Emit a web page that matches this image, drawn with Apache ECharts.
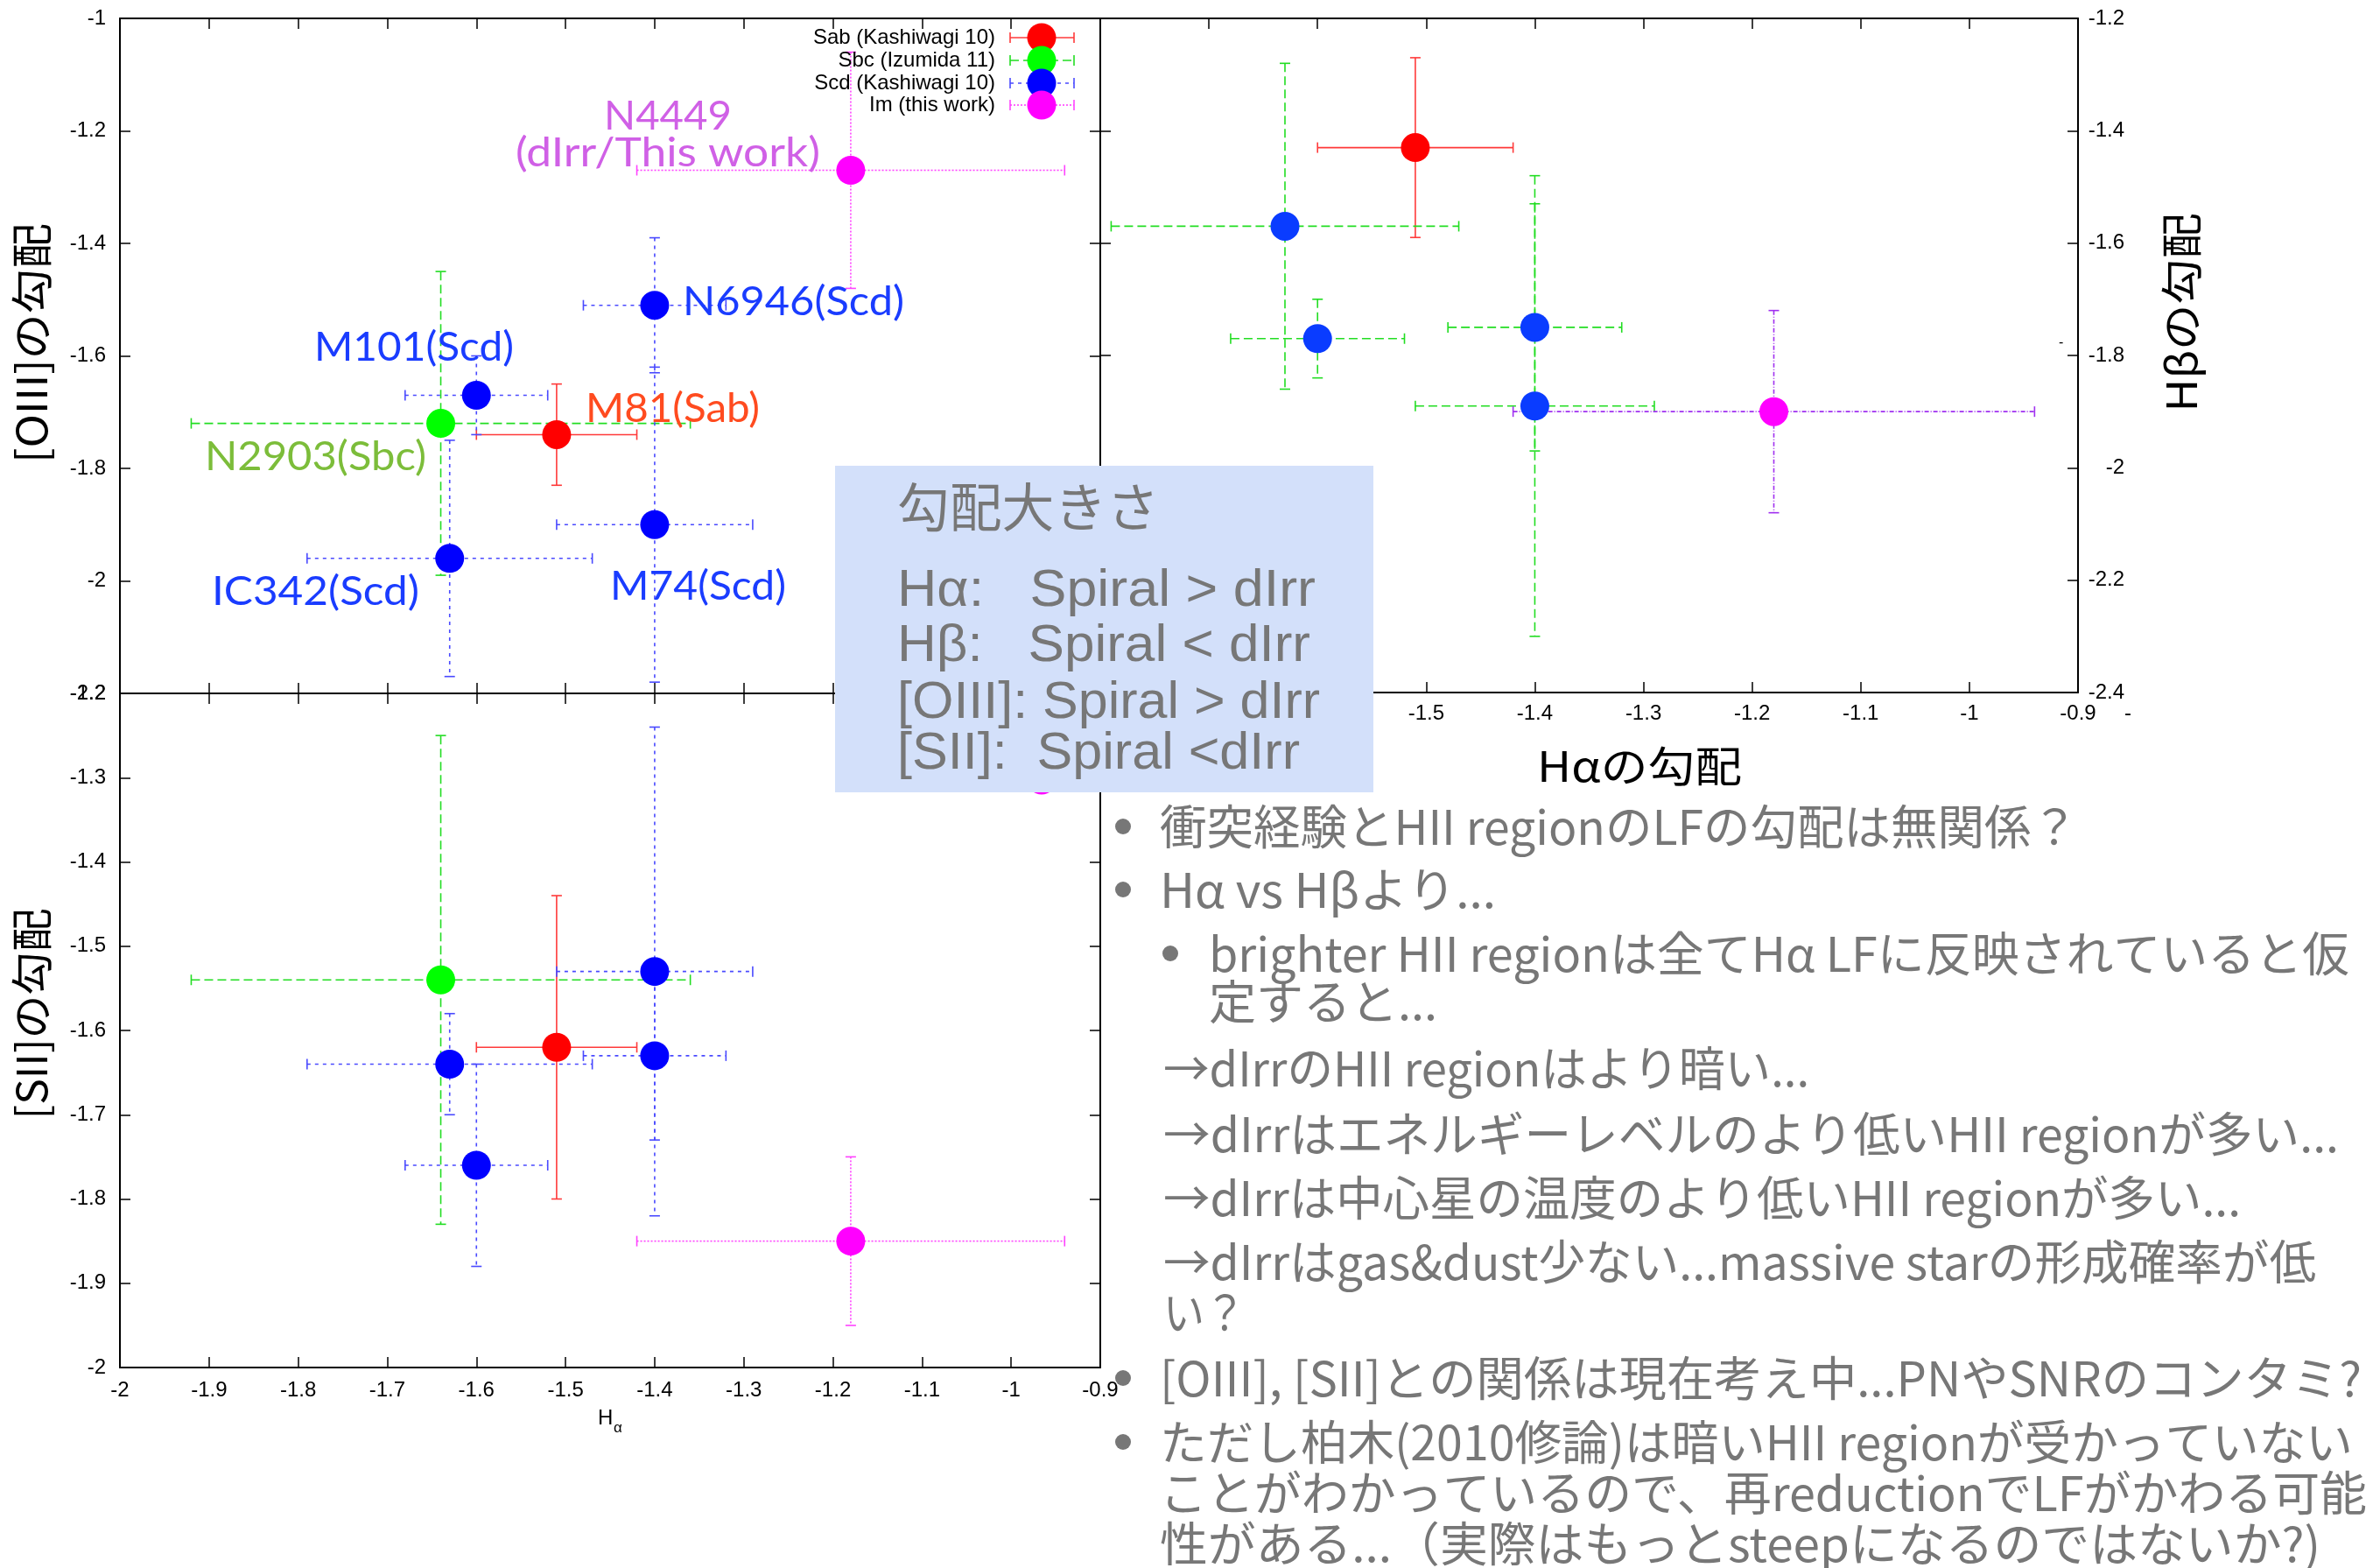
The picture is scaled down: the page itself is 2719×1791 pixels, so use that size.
<!DOCTYPE html>
<html><head><meta charset="utf-8">
<script src="https://cdn.jsdelivr.net/npm/echarts@6/dist/echarts.min.js"></script>
<style>html,body{margin:0;padding:0;background:#fff}#c{width:2719px;height:1791px}</style>
</head><body><div id="c"></div>
<script>
// ---------------- data ----------------
const galaxies = ['M81','N2903','M101','N6946','M74','IC342','N4449'];
const morph    = ['Sab','Sbc','Scd','Scd','Scd','Scd','Im'];
const haSlope  = [-1.51,-1.64,-1.60,-1.40,-1.40,-1.63,-1.18];
const haErr    = [0.09, 0.28, 0.08, 0.08, 0.11, 0.16, 0.24];
const oiiiSlope= [-1.74,-1.72,-1.67,-1.51,-1.90,-1.96,-1.27];
const oiiiErr  = [0.09, 0.27, 0.07, 0.12, 0.28, 0.21, 0.21];
const siiSlope = [-1.62,-1.54,-1.76,-1.63,-1.53,-1.64,-1.85];
const siiErr   = [0.18, 0.29, 0.12, 0.10, 0.29, 0.06, 0.10];
const hbSlope  = [-1.43, null,-1.77,-1.75,-1.89,-1.57,-1.90];
const hbErr    = [0.16, null, 0.07, 0.22, 0.41, 0.29, 0.18];
const groups   = ['Sab','Sbc','Scd','Im'];
const legendLabels = ['Sab (Kashiwagi 10)','Sbc (Izumida 11)','Scd (Kashiwagi 10)','Im (this work)'];
const galaxyLabels = ['M81(Sab)','N2903(Sbc)','M101(Scd)','N6946(Scd)','M74(Scd)','IC342(Scd)','N4449','(dIrr/This work)'];
const haRangeLeft  = [-2, -0.9, 0.1];
const haRangeRight = [-1.8, -0.9, 0.1];
const oiiiRange = [-2.2, -1, 0.2];
const hbRange   = [-2.4, -1.2, 0.2];
const siiRange  = [-2, -1.2, 0.1];
const axisNames = ['[OIII]の勾配','[SII]の勾配','Hβの勾配','Hαの勾配'];
const boxLines = ['勾配大きさ','Hα:   Spiral > dIrr','Hβ:   Spiral < dIrr','[OIII]: Spiral > dIrr','[SII]:  Spiral <dIrr'];
const notes = [
 '衝突経験とHII regionのLFの勾配は無関係？',
 'Hα vs Hβより...',
 'brighter HII regionは全てHα LFに反映されていると仮',
 '定すると...',
 '→dIrrのHII regionはより暗い...',
 '→dIrrはエネルギーレベルのより低いHII regionが多い...',
 '→dIrrは中心星の温度のより低いHII regionが多い...',
 '→dIrrはgas&dust少ない...massive starの形成確率が低',
 'い？',
 '[OIII], [SII]との関係は現在考え中...PNやSNRのコンタミ?',
 'ただし柏木(2010修論)は暗いHII regionが受かっていない',
 'ことがわかっているので、再reductionでLFがかわる可能',
 '性がある...（実際はもっとsteepになるのではないか?)'
];

// ---------------- styles / layout ----------------
const ptColor = {Sab:'#ff0000', Sbc:'#00ff00', Scd:'#0000ff', Im:'#ff00ff'};
const errSty  = {Sab:{c:'#ff3a3a',d:null}, Sbc:{c:'#22dd22',d:[10,5]}, Scd:{c:'#4a4aff',d:[4,5]}, Im:{c:'#ff44ff',d:[2,2]}};
const ptColorTR = {Sab:'#ff0000', Sbc:'#00ff00', Scd:'#0a3cff', Im:'#ff00ff'};
const errStyTR  = {Sab:{c:'#ff3a3a',d:null}, Sbc:{c:'#22dd22',d:[10,5]}, Scd:{c:'#22dd22',d:[10,5]}, Im:{c:'#a030f0',d:[5,2,1,2]}};

const ctx = document.createElement('canvas').getContext('2d');
function fitText(text, o){
  const font = (o.weight||'normal') + ' ' + o.size + 'px ' + o.family;
  ctx.font = font;
  const mw = ctx.measureText(text).width;
  const sx = o.w ? o.w / mw : 1;
  return {type:'text', x:o.x, y:o.y, rotation:o.rot||0, scaleX:sx, z:o.z||100,
    style:{text:text, x:0, y:0, fill:o.color||'#000', font:font,
      align:o.align||'left', textAlign:o.align||'left',
      verticalAlign:'middle', textVerticalAlign:'middle'}};
}

function mkAxis(grid, pos, range, label){
  return {type:'value', gridIndex:grid, position:pos, min:range[0], max:range[1], interval:range[2],
    axisLine:{show:true, onZero:false, lineStyle:{color:'#000', width:2}},
    axisTick:{show:true, inside:true, length:12, lineStyle:{color:'#000', width:1.5}},
    splitLine:{show:false}, splitArea:{show:false},
    axisLabel: label ? Object.assign({show:true, color:'#000', fontSize:24, fontFamily:'Liberation Sans'}, label) : {show:false}};
}

function errItem(color, dash){
  return function(params, api){
    const x=api.value(0), y=api.value(1), ex=api.value(2), ey=api.value(3);
    const L=api.coord([x-ex,y]), R=api.coord([x+ex,y]), T=api.coord([x,y+ey]), B=api.coord([x,y-ey]);
    const cap=6;
    const s={stroke:color, lineWidth:1.6, lineDash:dash, fill:null};
    const sc={stroke:color, lineWidth:1.6, fill:null};
    return {type:'group', children:[
      {type:'line', shape:{x1:L[0],y1:L[1],x2:R[0],y2:R[1]}, style:s},
      {type:'line', shape:{x1:L[0],y1:L[1]-cap,x2:L[0],y2:L[1]+cap}, style:sc},
      {type:'line', shape:{x1:R[0],y1:R[1]-cap,x2:R[0],y2:R[1]+cap}, style:sc},
      {type:'line', shape:{x1:T[0],y1:T[1],x2:B[0],y2:B[1]}, style:s},
      {type:'line', shape:{x1:T[0]-cap,y1:T[1],x2:T[0]+cap,y2:T[1]}, style:sc},
      {type:'line', shape:{x1:B[0]-cap,y1:B[1],x2:B[0]+cap,y2:B[1]}, style:sc}
    ]};
  };
}

const panels = [
  {axis:0, y:oiiiSlope, ey:oiiiErr, pc:ptColor,   es:errSty},
  {axis:2, y:hbSlope,   ey:hbErr,   pc:ptColorTR, es:errStyTR},
  {axis:4, y:siiSlope,  ey:siiErr,  pc:ptColor,   es:errSty}
];
const series = [];
panels.forEach(p => {
  groups.forEach(g => {
    const idx = galaxies.map((_,i)=>i).filter(i => morph[i]===g && p.y[i]!=null);
    if (!idx.length) return;
    series.push({type:'custom', xAxisIndex:p.axis, yAxisIndex:p.axis, silent:true,
      renderItem: errItem(p.es[g].c, p.es[g].d),
      data: idx.map(i => [haSlope[i], p.y[i], haErr[i], p.ey[i]])});
    series.push({type:'scatter', xAxisIndex:p.axis, yAxisIndex:p.axis, silent:true,
      symbol:'circle', symbolSize:33, itemStyle:{color:p.pc[g], opacity:1},
      data: idx.map(i => [haSlope[i], p.y[i]])});
  });
});

// ---------------- graphics ----------------
const G = [];
// legend (top-left plot); the bottom-left plot's key symbols sit hidden behind the box
const legRowY = [43, 69, 95, 120];
[0, 771].forEach(off => {
  groups.forEach((g,i) => {
    const y = legRowY[i] + off;
    if (off === 0) {
      G.push({type:'text', z:50, style:{text:legendLabels[i], x:1137, y:y, fill:'#000', font:'normal 24px Liberation Sans',
        align:'right', textAlign:'right', verticalAlign:'middle', textVerticalAlign:'middle'}});
    }
    const c = errSty[g].c;
    G.push({type:'line', z:50, shape:{x1:1154,y1:y,x2:1227,y2:y}, style:{stroke:c, lineWidth:1.6, lineDash:errSty[g].d}});
    G.push({type:'line', z:50, shape:{x1:1154,y1:y-6,x2:1154,y2:y+6}, style:{stroke:c, lineWidth:1.6}});
    G.push({type:'line', z:50, shape:{x1:1227,y1:y-6,x2:1227,y2:y+6}, style:{stroke:c, lineWidth:1.6}});
    G.push({type:'circle', z:51, shape:{cx:1190, cy:y, r:16.5}, style:{fill:ptColor[g]}});
  });
});
// galaxy labels
const labLayout = [
  {x:669, y:467, w:199, c:'#ff4b1f'},
  {x:234, y:522, w:253, c:'#7cbd3a'},
  {x:359, y:397, w:228, c:'#1a3cff'},
  {x:780, y:345, w:253, c:'#1a3cff'},
  {x:697, y:670, w:201, c:'#1a3cff'},
  {x:242, y:676, w:237, c:'#1a3cff'},
  {x:690, y:133, w:146, c:'#d060e6'},
  {x:589, y:175, w:348, c:'#d060e6'}
];
galaxyLabels.forEach((t,i) => {
  const L = labLayout[i];
  G.push(fitText(t, {x:L.x, y:L.y, w:L.w, size:46, family:'Lato', color:L.c, z:60}));
});
// axis titles
G.push(fitText(axisNames[0], {x:36, y:392, w:274, size:48, family:'Noto Sans CJK JP', rot:Math.PI/2, align:'center', z:60}));
G.push(fitText(axisNames[1], {x:36, y:1158, w:241, size:48, family:'Noto Sans CJK JP', rot:Math.PI/2, align:'center', z:60}));
G.push(fitText(axisNames[2], {x:2492, y:357, w:227, size:48, family:'Noto Sans CJK JP', rot:Math.PI/2, align:'center', z:60}));
G.push(fitText(axisNames[3], {x:1873, y:875, w:234, size:48, family:'Noto Sans CJK JP', align:'center', z:60}));
G.push(fitText('H', {x:683, y:1620, size:24, family:'Liberation Sans', z:60}));
G.push(fitText('α', {x:701, y:1631, size:17, family:'Liberation Sans', z:60}));
G.push(fitText('-', {x:2427, y:815, size:24, family:'Liberation Sans', z:60}));
G.push(fitText('-', {x:2352, y:392, size:16, family:'Liberation Sans', z:60}));
// summary box
G.push({type:'rect', z:100, shape:{x:954, y:532, width:615, height:373}, style:{fill:'#d3e0fa'}});
const boxY = [579, 675, 738, 803, 861];
const boxW = [299, 478, 472, 483, 460];
boxLines.forEach((t,i) => {
  G.push(fitText(t, {x:1025, y:boxY[i], w:boxW[i], size:60, family: i===0 ? 'Noto Sans CJK JP' : 'Liberation Sans', color:'#777777', z:101}));
});
// notes
const noteX = [1325,1325,1381,1381,1329,1329,1329,1329,1329,1325,1325,1325,1325];
const noteY = [944,1016,1089,1144,1220,1295,1368,1441,1499,1574,1647,1705,1763];
const noteW = [1049,384,1303,261,738,1343,1231,1317,94,1373,1363,1379,1326];
notes.forEach((t,i) => {
  G.push(fitText(t, {x:noteX[i], y:noteY[i], w:noteW[i], size:54, family:'Noto Sans CJK JP', color:'#777777', z:101}));
});
[[1283,944],[1283,1016],[1337,1089],[1283,1574],[1283,1647]].forEach(b => {
  G.push({type:'circle', z:101, shape:{cx:b[0], cy:b[1], r:9}, style:{fill:'#777777'}});
});

// ---------------- chart ----------------
const chart = echarts.init(document.getElementById('c'), null, {renderer:'canvas'});
chart.setOption({
  animation:false,
  backgroundColor:'#ffffff',
  grid:[
    {left:137, top:21, width:1120, height:771, outerBoundsMode:'none', containLabel:false},
    {left:1257, top:21, width:1117, height:770, outerBoundsMode:'none', containLabel:false},
    {left:137, top:792, width:1120, height:770, outerBoundsMode:'none', containLabel:false}
  ],
  xAxis:[
    mkAxis(0,'bottom',haRangeLeft,null),
    mkAxis(0,'top',haRangeLeft,null),
    mkAxis(1,'bottom',haRangeRight,{margin:12}),
    mkAxis(1,'top',haRangeRight,null),
    mkAxis(2,'bottom',haRangeLeft,{margin:14}),
    mkAxis(2,'top',haRangeLeft,null)
  ],
  yAxis:[
    mkAxis(0,'left',oiiiRange,{margin:16}),
    mkAxis(0,'right',oiiiRange,null),
    mkAxis(1,'right',hbRange,{margin:53, align:'right'}),
    mkAxis(1,'left',hbRange,null),
    mkAxis(2,'left',siiRange,{margin:16}),
    mkAxis(2,'right',siiRange,null)
  ],
  series:series,
  graphic:{elements:G}
});
</script></body></html>
